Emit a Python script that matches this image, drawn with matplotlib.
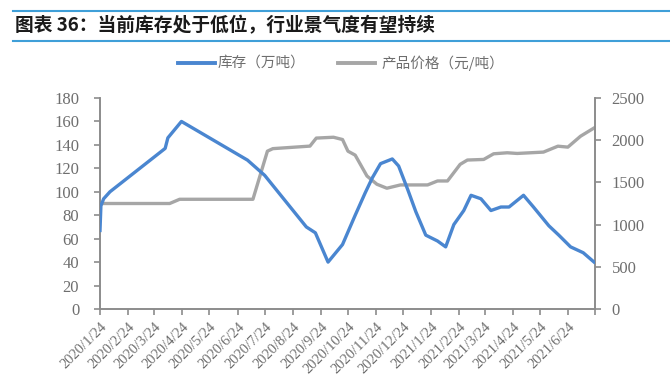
import matplotlib
matplotlib.use("Agg")
import matplotlib.pyplot as plt
import pandas as pd

plt.rcParams['font.family'] = ['Noto Sans CJK SC', 'DejaVu Sans']

title = "图表 36：当前库存处于低位，行业景气度有望持续"
inv_label = "库存（万吨）"
price_label = "产品价格（元/吨）"

# inventory (10k tonnes), left axis
inv_dates = ["2020-01-24", "2020-01-25", "2020-01-28", "2020-02-04", "2020-04-05", "2020-04-08",
             "2020-04-23", "2020-07-05", "2020-07-24", "2020-09-08", "2020-09-18", "2020-10-02",
             "2020-10-18", "2020-11-01", "2020-11-12", "2020-11-20", "2020-11-29", "2020-12-12",
             "2020-12-19", "2020-12-29", "2021-01-07", "2021-01-18", "2021-01-31", "2021-02-09",
             "2021-02-18", "2021-03-01", "2021-03-09", "2021-03-20", "2021-03-31", "2021-04-11",
             "2021-04-20", "2021-05-06", "2021-05-17", "2021-06-03", "2021-06-14", "2021-06-27",
             "2021-07-11", "2021-07-23"]
inv_values = [67, 88, 94, 100, 137, 146,
              160, 127, 114, 70, 65, 40,
              55, 80, 99, 112, 124, 128,
              122, 102, 83, 63, 58, 53,
              72, 84, 97, 94, 84, 87,
              87, 97, 87, 71, 63, 53,
              48, 40]

# product price (yuan/tonne), right axis
price_dates = ["2020-01-24", "2020-04-10", "2020-04-21", "2020-07-11", "2020-07-27", "2020-08-02",
               "2020-09-12", "2020-09-19", "2020-10-08", "2020-10-18", "2020-10-24", "2020-11-01",
               "2020-11-14", "2020-11-25", "2020-12-06", "2020-12-21", "2021-01-20", "2021-01-31",
               "2021-02-11", "2021-02-25", "2021-03-05", "2021-03-23", "2021-04-03", "2021-04-18",
               "2021-04-29", "2021-05-28", "2021-06-13", "2021-06-24", "2021-07-08", "2021-07-23"]
price_values = [1250, 1250, 1300, 1300, 1870, 1900,
                1930, 2025, 2035, 2008, 1870, 1823,
                1576, 1478, 1431, 1470, 1470, 1517,
                1517, 1714, 1765, 1772, 1839, 1851,
                1843, 1859, 1929, 1918, 2047, 2145]

tick_dates = pd.date_range("2020-01-01", periods=19, freq="MS") + pd.Timedelta(days=23)
tick_labels = ["{}/{}/24".format(d.year, d.month) for d in tick_dates[:-1]] + [""]

blue = "#4a86d0"
grey = "#a6a6a6"
axis_col = "#8c8c8c"
text_col = "#6e6e6e"

fig = plt.figure(figsize=(6.7, 3.82), dpi=100)
ax = fig.add_axes([100 / 670, 1 - 309 / 382, 495 / 670, (309 - 98) / 382])
ax2 = ax.twinx()

ax.plot(pd.to_datetime(inv_dates), inv_values, color=blue, lw=2.4, zorder=3)
ax2.plot(pd.to_datetime(price_dates), price_values, color=grey, lw=2.4)
ax.set_zorder(ax2.get_zorder() + 1)
ax.patch.set_visible(False)

ax.set_xlim(tick_dates[0], tick_dates[-1])
ax.set_ylim(0, 180)
ax2.set_ylim(0, 2500)
ax.set_yticks(range(0, 181, 20))
ax2.set_yticks(range(0, 2501, 500))
ax.set_xticks(tick_dates)
ax.set_xticklabels(tick_labels, rotation=45, ha="right", va="top", rotation_mode="anchor")

serif = ["Liberation Serif", "DejaVu Serif"]
for a in (ax, ax2):
    for s in a.spines.values():
        s.set_color(axis_col)
        s.set_linewidth(1.2)
    a.spines["top"].set_visible(False)
    a.tick_params(colors=axis_col, labelcolor=text_col, length=4, width=1.2)
    for lab in a.get_yticklabels():
        lab.set_fontfamily(serif)
        lab.set_fontsize(12)
for lab in ax.get_xticklabels():
    lab.set_fontfamily(serif)
    lab.set_fontsize(10.5)
ax.tick_params(axis="y", pad=11)
ax2.tick_params(axis="y", pad=8)
ax.tick_params(axis="x", pad=4)

# legend
ly = 1 - 63 / 382
fig.lines.append(plt.Line2D([178 / 670, 215 / 670], [ly, ly], transform=fig.transFigure,
                            color=blue, lw=2.8))
fig.text(218 / 670, ly, inv_label, color=text_col, fontsize=10.5, va="center")
fig.lines.append(plt.Line2D([338 / 670, 375 / 670], [ly, ly], transform=fig.transFigure,
                            color=grey, lw=2.8))
fig.text(381 / 670, ly, price_label, color=text_col, fontsize=10.5, va="center")

# title with rules
fig.lines.append(plt.Line2D([13 / 670, 1], [1 - 10.5 / 382] * 2, transform=fig.transFigure,
                            color="#3f9fd8", lw=1.5))
fig.lines.append(plt.Line2D([13 / 670, 1], [1 - 40.5 / 382] * 2, transform=fig.transFigure,
                            color="#3f9fd8", lw=1.5))
fig.text(15 / 670, 1 - 25.5 / 382, title, fontsize=13.5, fontweight="bold", color="#1a1a1a",
         va="center")

fig.savefig("out.png", dpi=100)
